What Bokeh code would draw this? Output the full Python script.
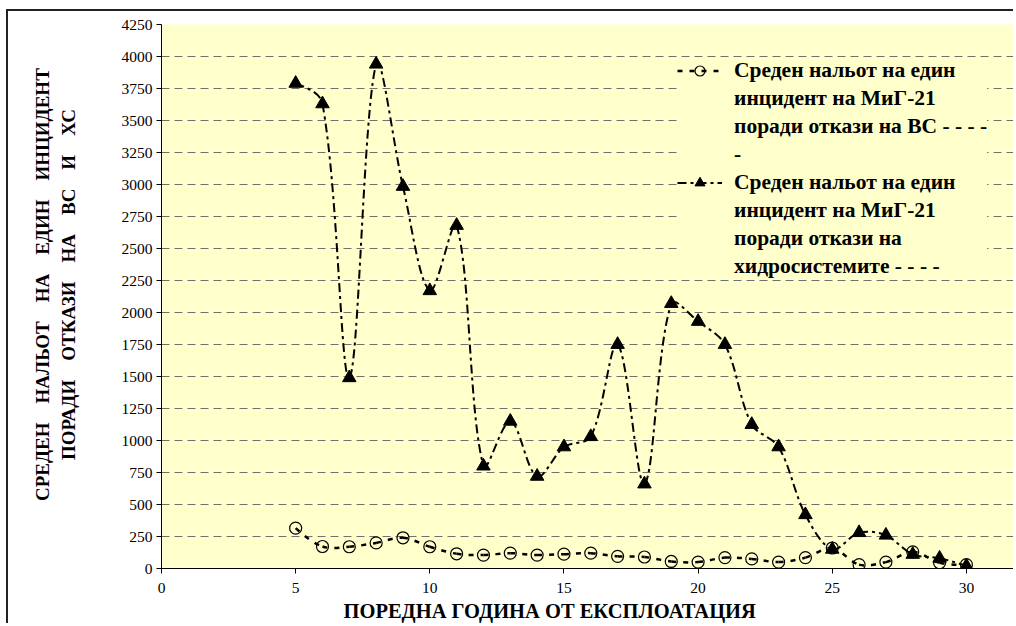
from bokeh.plotting import figure
from bokeh.models import ColumnDataSource, Legend, LegendItem, SingleIntervalTicker, Title
from bokeh.embed import file_html
from bokeh.resources import INLINE

years = list(range(5, 31))
bc_values = [315, 172, 170, 200, 240, 170, 115, 105, 120, 105, 112, 120, 95, 90,
             55, 50, 85, 75, 50, 85, 160, 30, 50, 130, 45, 30]
hs_values = [3790, 3630, 1490, 3940, 2985, 2170, 2680, 800, 1150, 720, 950, 1030,
             1750, 660, 2070, 1930, 1750, 1125, 950, 420, 150, 280, 260, 110, 80, 20]

label_bc = ["Среден нальот на един", "инцидент на МиГ-21", "поради откази на ВС - - - -", "-"]
label_hs = ["Среден нальот на един", "инцидент на МиГ-21", "поради откази на", "хидросистемите - - - -"]
x_title = "ПОРЕДНА ГОДИНА ОТ ЕКСПЛОАТАЦИЯ"
y_words_1 = ["СРЕДЕН", "НАЛЬОТ", "НА", "ЕДИН", "ИНЦИДЕНТ"]
y_words_2 = ["ПОРАДИ", "ОТКАЗИ", "НА", "ВС", "И", "ХС"]

NB = "\u00a0"
# justified look of the original: wide word gaps (non-breaking spaces keep their width in SVG)
y_title = (NB * 5 + (" " + NB * 3).join(y_words_1) + "\n"
           + NB * 5 + (" " + NB * 3).join(y_words_2))

SERIF = "Liberation Serif"

W, H = 1007, 614
X_END, Y_END = 31.83, 4250
FRAME_W, FRAME_H = 854, 544


def smooth_segments(xs, ys):
    """Bezier segments through the data points (chord-weighted Catmull-Rom, like Excel smoothing)."""
    sx, sy = FRAME_W / X_END, FRAME_H / Y_END
    px = [x * sx for x in xs]
    py = [y * sy for y in ys]
    n = len(xs)

    def dist(i, j):
        return ((px[j] - px[i]) ** 2 + (py[j] - py[i]) ** 2) ** 0.5

    cin, cout = [], []
    for i in range(n):
        if i == 0 or i == n - 1:
            cin.append(None); cout.append(None)
            continue
        tx, ty = px[i + 1] - px[i - 1], py[i + 1] - py[i - 1]
        d0, d1 = dist(i - 1, i), dist(i, i + 1)
        s = d0 + d1
        cin.append((px[i] - tx * d0 / s / 3, py[i] - ty * d0 / s / 3))
        cout.append((px[i] + tx * d1 / s / 3, py[i] + ty * d1 / s / 3))
    seg = dict(x0=[], y0=[], x1=[], y1=[], cx0=[], cy0=[], cx1=[], cy1=[])
    for i in range(n - 1):
        a = cout[i]
        b = cin[i + 1]
        if a is None:
            a = (px[i] + (b[0] - px[i]) / 2, py[i] + (b[1] - py[i]) / 2) if b else (px[i], py[i])
        if b is None:
            b = (px[i + 1] + (a[0] - px[i + 1]) / 2, py[i + 1] + (a[1] - py[i + 1]) / 2)
        seg["x0"].append(xs[i]); seg["y0"].append(ys[i])
        seg["x1"].append(xs[i + 1]); seg["y1"].append(ys[i + 1])
        seg["cx0"].append(a[0] / sx); seg["cy0"].append(a[1] / sy)
        seg["cx1"].append(b[0] / sx); seg["cy1"].append(b[1] / sy)
    return seg


p = figure(width=W, height=H, x_range=(0, X_END), y_range=(0, Y_END),
           output_backend="svg", toolbar_location=None,
           min_border_left=153, min_border_right=0, min_border_top=13, min_border_bottom=57)
p.styles = {"margin-left": "6px", "margin-top": "9px",
            "border-left": "2px solid #222", "border-top": "2px solid #222"}

p.background_fill_color = "#FFFFCC"
p.border_fill_color = "white"
p.outline_line_color = None

p.xgrid.visible = False
p.ygrid.grid_line_color = "#707070"
p.ygrid.grid_line_dash = "8 5"
p.ygrid.grid_line_width = 1

p.yaxis.ticker = SingleIntervalTicker(interval=250)
p.xaxis.ticker = SingleIntervalTicker(interval=5)
for ax in (p.xaxis, p.yaxis):
    ax.axis_line_color = "black"
    ax.axis_line_width = 1
    ax.major_tick_line_color = "black"
    ax.major_tick_out = 5
    ax.major_tick_in = 0
    ax.minor_tick_line_color = None
    ax.major_label_text_font = SERIF
    ax.major_label_text_font_size = "15.5px"
    ax.major_label_text_color = "black"
p.yaxis.major_label_standoff = 4
p.xaxis.major_label_standoff = 9

p.yaxis.axis_label = y_title
p.yaxis.axis_label_text_font = SERIF
p.yaxis.axis_label_text_font_style = "bold"
p.yaxis.axis_label_text_font_size = "19px"
p.yaxis.axis_label_text_color = "black"
p.yaxis.axis_label_text_line_height = 1.2
p.yaxis.axis_label_standoff = 40

p.add_layout(Title(text=x_title, align="left", offset=182, text_font=SERIF,
                   text_font_style="bold", text_font_size="20.5px", text_color="black",
                   standoff=5), "below")

# Series: ВС (circles)
seg_bc = ColumnDataSource(smooth_segments(years, bc_values))
c_bc = p.bezier(x0="x0", y0="y0", x1="x1", y1="y1", cx0="cx0", cy0="cy0", cx1="cx1", cy1="cy1",
                source=seg_bc, line_color="black", line_width=2.5, line_dash="5 7")
src_bc = ColumnDataSource(dict(x=years, y=bc_values))
r_bc = p.scatter("x", "y", source=src_bc, marker="circle", size=12, fill_alpha=0,
                 line_color="black", line_width=1.2)

# Series: ХС (triangles)
seg_hs = ColumnDataSource(smooth_segments(years, hs_values))
c_hs = p.bezier(x0="x0", y0="y0", x1="x1", y1="y1", cx0="cx0", cy0="cy0", cx1="cx1", cy1="cy1",
                source=seg_hs, line_color="black", line_width=2, line_dash="9 4 3 4")
src_hs = ColumnDataSource(dict(x=years, y=hs_values))
r_hs = p.scatter("x", "y", source=src_hs, marker="triangle", size=13.5, fill_color="black",
                 line_color="black")

# invisible renderer used for the continuation lines of the legend labels
blank = p.scatter(x=[], y=[], size=0, fill_alpha=0, line_alpha=0)

items = [LegendItem(label=label_bc[0], renderers=[c_bc, r_bc])]
items += [LegendItem(label=t, renderers=[blank]) for t in label_bc[1:]]
items += [LegendItem(label=label_hs[0], renderers=[c_hs, r_hs])]
items += [LegendItem(label=t, renderers=[blank]) for t in label_hs[1:]]

legend = Legend(items=items, location=(516, 289))
legend.background_fill_color = "#FFFFCC"
legend.background_fill_alpha = 1
legend.border_line_color = None
legend.label_text_font = SERIF
legend.label_text_font_style = "bold"
legend.label_text_font_size = "21.5px"
legend.label_text_color = "black"
legend.label_height = 25
legend.glyph_height = 25
legend.glyph_width = 45
legend.label_standoff = 12
legend.spacing = 3
legend.padding = 4
legend.margin = 0
p.add_layout(legend)

open("out.html", "w").write(file_html(p, INLINE))
